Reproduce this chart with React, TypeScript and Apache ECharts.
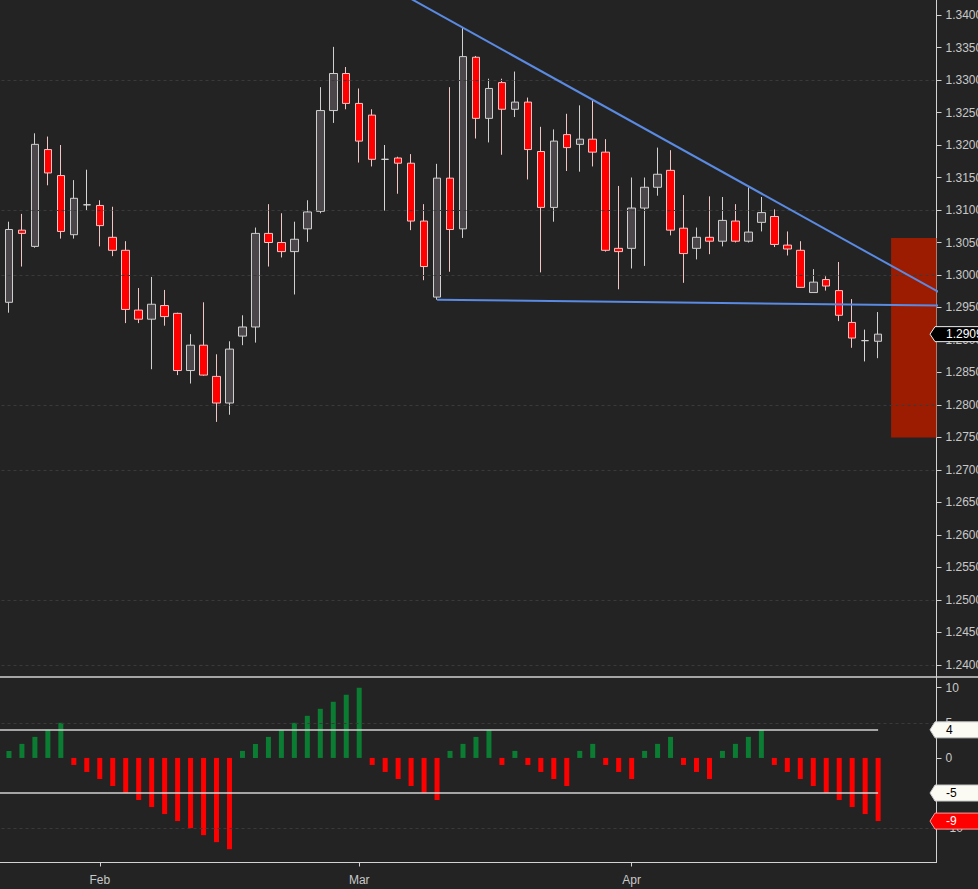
import React, { useEffect, useRef } from 'react';
import * as echarts from 'echarts';

// ---------- data ----------
const DATES: string[] = [
  '2019-01-22', '2019-01-23', '2019-01-24', '2019-01-25', '2019-01-28', '2019-01-29', '2019-01-30', '2019-01-31',
  '2019-02-01', '2019-02-04', '2019-02-05', '2019-02-06', '2019-02-07', '2019-02-08', '2019-02-11', '2019-02-12',
  '2019-02-13', '2019-02-14', '2019-02-15', '2019-02-18', '2019-02-19', '2019-02-20', '2019-02-21', '2019-02-22',
  '2019-02-25', '2019-02-26', '2019-02-27', '2019-02-28',
  '2019-03-01', '2019-03-04', '2019-03-05', '2019-03-06', '2019-03-07', '2019-03-08', '2019-03-11', '2019-03-12',
  '2019-03-13', '2019-03-14', '2019-03-15', '2019-03-18', '2019-03-19', '2019-03-20', '2019-03-21', '2019-03-22',
  '2019-03-25', '2019-03-26', '2019-03-27', '2019-03-28', '2019-03-29',
  '2019-04-01', '2019-04-02', '2019-04-03', '2019-04-04', '2019-04-05', '2019-04-08', '2019-04-09', '2019-04-10',
  '2019-04-11', '2019-04-12', '2019-04-15', '2019-04-16', '2019-04-17', '2019-04-18', '2019-04-19', '2019-04-22',
  '2019-04-23', '2019-04-24', '2019-04-25', '2019-04-26', '2019-04-29', '2019-04-30', '2019-05-01', '2019-05-02',
];

const MONTH_LABELS: Record<string, string> = {
  '2019-02-01': 'Feb',
  '2019-03-01': 'Mar',
  '2019-04-01': 'Apr',
};

// [open, high, low, close]
const OHLC: [number, number, number, number][] = [
  [1.2892, 1.2962, 1.2888, 1.2958],
  [1.2958, 1.3082, 1.2942, 1.3070],
  [1.3069, 1.3094, 1.3013, 1.3064],
  [1.3044, 1.3218, 1.3042, 1.3201],
  [1.3193, 1.3213, 1.3138, 1.3157],
  [1.3153, 1.3200, 1.3056, 1.3067],
  [1.3062, 1.3146, 1.3056, 1.3118],
  [1.3108, 1.3162, 1.3099, 1.3108],
  [1.3107, 1.3115, 1.3044, 1.3076],
  [1.3058, 1.3105, 1.3029, 1.3038],
  [1.3038, 1.3052, 1.2926, 1.2947],
  [1.2946, 1.2980, 1.2926, 1.2932],
  [1.2932, 1.2997, 1.2855, 1.2955],
  [1.2953, 1.2977, 1.2922, 1.2936],
  [1.2941, 1.2942, 1.2846, 1.2853],
  [1.2853, 1.2909, 1.2833, 1.2892],
  [1.2892, 1.2958, 1.2845, 1.2846],
  [1.2844, 1.2878, 1.2774, 1.2803],
  [1.2803, 1.2898, 1.2785, 1.2886],
  [1.2906, 1.2938, 1.2892, 1.2920],
  [1.2920, 1.3073, 1.2896, 1.3064],
  [1.3064, 1.3109, 1.3013, 1.3050],
  [1.3050, 1.3095, 1.3027, 1.3036],
  [1.3036, 1.3082, 1.2970, 1.3055],
  [1.3071, 1.3115, 1.3051, 1.3097],
  [1.3098, 1.3289, 1.3095, 1.3253],
  [1.3253, 1.3351, 1.3234, 1.3310],
  [1.3310, 1.3320, 1.3255, 1.3264],
  [1.3264, 1.3287, 1.3173, 1.3206],
  [1.3246, 1.3255, 1.3167, 1.3178],
  [1.3178, 1.3200, 1.3099, 1.3178],
  [1.3180, 1.3182, 1.3125, 1.3172],
  [1.3172, 1.3186, 1.3069, 1.3083],
  [1.3083, 1.3109, 1.2992, 1.3013],
  [1.2966, 1.3171, 1.2962, 1.3149],
  [1.3149, 1.3289, 1.3005, 1.3070],
  [1.3071, 1.3381, 1.3057, 1.3336],
  [1.3335, 1.3337, 1.3210, 1.3241],
  [1.3241, 1.3302, 1.3204, 1.3287],
  [1.3296, 1.3302, 1.3185, 1.3255],
  [1.3255, 1.3313, 1.3243, 1.3266],
  [1.3266, 1.3273, 1.3147, 1.3193],
  [1.3190, 1.3228, 1.3004, 1.3104],
  [1.3104, 1.3224, 1.3082, 1.3206],
  [1.3216, 1.3248, 1.3160, 1.3196],
  [1.3201, 1.3261, 1.3159, 1.3209],
  [1.3209, 1.3270, 1.3167, 1.3189],
  [1.3189, 1.3209, 1.3036, 1.3038],
  [1.3041, 1.3137, 1.2978, 1.3036],
  [1.3041, 1.3150, 1.3010, 1.3103],
  [1.3103, 1.3150, 1.3014, 1.3135],
  [1.3135, 1.3196, 1.3122, 1.3155],
  [1.3161, 1.3192, 1.3061, 1.3069],
  [1.3072, 1.3123, 1.2988, 1.3033],
  [1.3041, 1.3073, 1.3024, 1.3058],
  [1.3058, 1.3121, 1.3032, 1.3052],
  [1.3052, 1.3120, 1.3044, 1.3084],
  [1.3083, 1.3109, 1.3050, 1.3052],
  [1.3052, 1.3135, 1.3050, 1.3066],
  [1.3081, 1.3120, 1.3067, 1.3096],
  [1.3090, 1.3101, 1.3043, 1.3047],
  [1.3046, 1.3067, 1.3030, 1.3040],
  [1.3038, 1.3052, 1.2980, 1.2981],
  [1.2973, 1.3009, 1.2973, 1.2989],
  [1.2993, 1.2998, 1.2976, 1.2983],
  [1.2976, 1.3020, 1.2929, 1.2938],
  [1.2927, 1.2963, 1.2888, 1.2903],
  [1.2899, 1.2916, 1.2867, 1.2899],
  [1.2898, 1.2943, 1.2872, 1.2909],
];

const HIST: (number | null)[] = [
  null,
  1, 2, 3, 4, 5,
  -1, -2, -3, -4, -5, -6, -7, -8, -9, -10, -11, -12, -13,
  1, 2, 3, 4, 5, 6, 7, 8, 9, 10,
  -1, -2, -3, -4, -5, -6,
  1, 2, 3, 4,
  -1,
  1,
  -1, -2, -3, -4,
  1, 2,
  -1, -2, -3,
  1, 2, 3,
  -1, -2, -3,
  1, 2, 3, 4,
  -1, -2, -3, -4, -5, -6, -7, -8, -9,
];

const HIST_LEVELS = [4, -5];
const PRICE_TICKS = [
  1.24, 1.245, 1.25, 1.255, 1.26, 1.265, 1.27, 1.275, 1.28, 1.285, 1.29,
  1.295, 1.3, 1.305, 1.31, 1.315, 1.32, 1.325, 1.33, 1.335, 1.34,
];
const PRICE_GRID = [1.24, 1.255, 1.27, 1.285, 1.3, 1.315, 1.33];
const HIST_TICKS = [-10, -5, 0, 5, 10];
const HIST_GRID = [-10, 5];

// trend lines: [category index, price] end points
const TREND_UPPER: [number, number][] = [[30, 1.3447], [73, 1.297]];
const TREND_LOWER: [number, number][] = [[34, 1.2962], [73, 1.2953]];

const ZONE_START = '2019-04-29';
const ZONE_HIGH = 1.3057;
const ZONE_LOW = 1.275;

// ---------- layout / style ----------
const W = 978;
const H = 889;
const GRID_LEFT = -10.5;
const GRID_WIDTH = 947;
const MAIN_TOP = 0;
const MAIN_H = 677;
const SUB_TOP = 677;
const SUB_H = 185.5;
const PRICE_MIN = 1.23815;
const PRICE_MAX = 1.34231;
const HIST_MIN = -14.9;
const HIST_MAX = 11.53;

const BG = '#232323';
const AXIS_COLOR = '#d2d2d2';
const LABEL_COLOR = '#c8c8c8';
const FONT = '"Liberation Sans", Arial, sans-serif';

export default function App() {
  const ref = useRef<HTMLDivElement>(null);

  useEffect(() => {
    if (!ref.current) return;
    const chart = echarts.init(ref.current, null, { renderer: 'svg' });

    const isMonth = (_i: number, v: string) => !!MONTH_LABELS[v];
    const gridBase = { outerBoundsMode: 'none', containLabel: false, left: GRID_LEFT, width: GRID_WIDTH };

    const option: any = {
      animation: false,
      backgroundColor: BG,
      textStyle: { fontFamily: FONT },
      grid: [
        { ...gridBase, top: MAIN_TOP, height: MAIN_H },
        { ...gridBase, top: SUB_TOP, height: SUB_H },
      ],
      xAxis: [
        { type: 'category', gridIndex: 0, data: DATES, show: false, boundaryGap: true, axisLine: { onZero: false } },
        {
          type: 'category',
          gridIndex: 1,
          data: DATES,
          boundaryGap: true,
          axisLine: { show: true, onZero: false, lineStyle: { color: AXIS_COLOR, width: 1 } },
          axisTick: { show: true, alignWithLabel: true, interval: isMonth, length: 4, lineStyle: { color: AXIS_COLOR } },
          axisLabel: {
            interval: isMonth,
            formatter: (v: string) => MONTH_LABELS[v] || '',
            color: LABEL_COLOR,
            fontSize: 12,
            fontFamily: FONT,
            margin: 11,
          },
          splitLine: { show: false },
        },
        {
          type: 'value',
          gridIndex: 0,
          min: -0.5,
          max: DATES.length - 0.5,
          show: false,
          axisLine: { onZero: false },
        },
      ],
      yAxis: [
        {
          type: 'value',
          gridIndex: 0,
          position: 'right',
          min: PRICE_MIN,
          max: PRICE_MAX,
          axisLine: { show: true, onZero: false, lineStyle: { color: AXIS_COLOR, width: 1 } },
          axisTick: { show: true, length: 5, customValues: PRICE_TICKS, lineStyle: { color: AXIS_COLOR } },
          axisLabel: {
            customValues: PRICE_TICKS,
            formatter: (v: number) => v.toFixed(4),
            color: LABEL_COLOR,
            fontSize: 12,
            fontFamily: FONT,
            margin: 9,
          },
          splitLine: { show: false },
        },
        {
          type: 'value',
          gridIndex: 1,
          position: 'right',
          min: HIST_MIN,
          max: HIST_MAX,
          axisLine: { show: true, onZero: false, lineStyle: { color: AXIS_COLOR, width: 1 } },
          axisTick: { show: true, length: 5, customValues: HIST_TICKS, lineStyle: { color: AXIS_COLOR } },
          axisLabel: {
            customValues: HIST_TICKS,
            formatter: (v: number) => String(v),
            color: LABEL_COLOR,
            fontSize: 12,
            fontFamily: FONT,
            margin: 9,
          },
          splitLine: { show: false },
        },
      ],
      series: [
        {
          type: 'line',
          xAxisIndex: 0,
          yAxisIndex: 0,
          data: [],
          z: 1,
          silent: true,
          markLine: {
            silent: true,
            animation: false,
            symbol: ['none', 'none'],
            label: { show: false },
            lineStyle: { color: '#3a3a3a', type: [3, 3], width: 1 },
            data: PRICE_GRID.map((v) => ({ yAxis: v })),
          },
          markArea: {
            silent: true,
            animation: false,
            itemStyle: { color: '#9c1c02', opacity: 1 },
            data: [[{ xAxis: ZONE_START, yAxis: ZONE_HIGH }, { yAxis: ZONE_LOW }]],
          },
        },
        {
          type: 'candlestick',
          xAxisIndex: 0,
          yAxisIndex: 0,
          z: 3,
          barWidth: 8,
          data: OHLC.map(([o, h, l, c]) => [o, c, l, h]),
          itemStyle: {
            color: '#4a4649',
            color0: '#ff0000',
            borderColor: '#cfcfcf',
            borderColor0: '#f2c4c4',
            borderColorDoji: '#d6d6d6',
            borderWidth: 1,
          },
        },
        {
          type: 'line',
          xAxisIndex: 2,
          yAxisIndex: 0,
          z: 5,
          symbol: 'none',
          silent: true,
          clip: true,
          data: TREND_UPPER,
          lineStyle: { color: '#5a8ae2', width: 2 },
        },
        {
          type: 'line',
          xAxisIndex: 2,
          yAxisIndex: 0,
          z: 5,
          symbol: 'none',
          silent: true,
          clip: true,
          data: TREND_LOWER,
          lineStyle: { color: '#5a8ae2', width: 2 },
        },
        {
          type: 'line',
          xAxisIndex: 1,
          yAxisIndex: 1,
          data: [],
          z: 1,
          silent: true,
          markLine: {
            silent: true,
            animation: false,
            symbol: ['none', 'none'],
            label: { show: false },
            lineStyle: { color: '#3a3a3a', type: [3, 3], width: 1 },
            data: HIST_GRID.map((v) => ({ yAxis: v })),
          },
        },
        {
          type: 'bar',
          xAxisIndex: 1,
          yAxisIndex: 1,
          z: 3,
          barWidth: 5,
          data: HIST.map((v) =>
            v == null ? null : { value: v, itemStyle: { color: v > 0 ? '#0b7d33' : '#ff0000' } }
          ),
          markLine: {
            silent: true,
            animation: false,
            symbol: ['none', 'none'],
            label: { show: false },
            lineStyle: { color: 'rgba(210,210,210,0.75)', type: 'solid', width: 2 },
            data: HIST_LEVELS.map((v) => [
              { coord: [DATES[0], v] },
              { coord: [DATES[HIST.length - 1], v] },
            ]),
          },
        },
      ],
    };

    chart.setOption(option);

    // value tags on the right axis, positioned through the axes' own scales
    const right = chart.convertToPixel({ xAxisIndex: 2 }, DATES.length - 0.5) as number;
    const lastClose = OHLC[OHLC.length - 1][3];
    const lastHist = HIST[HIST.length - 1] as number;
    const tags = [
      { axis: 0, value: lastClose, text: lastClose.toFixed(4), fill: '#000000', stroke: '#f0f0f0', color: '#ffffff', half: 7.5 },
      { axis: 1, value: HIST_LEVELS[0], text: String(HIST_LEVELS[0]), fill: '#fbfbf4', stroke: '#c8c8c8', color: '#000000', half: 8 },
      { axis: 1, value: HIST_LEVELS[1], text: String(HIST_LEVELS[1]), fill: '#fbfbf4', stroke: '#c8c8c8', color: '#000000', half: 8 },
      { axis: 1, value: lastHist, text: String(lastHist), fill: '#ff0000', stroke: '#ff9a9a', color: '#ffffff', half: 8 },
    ];
    const graphics: any[] = [
      {
        type: 'line',
        shape: { x1: 0, y1: SUB_TOP, x2: W, y2: SUB_TOP },
        style: { stroke: AXIS_COLOR, lineWidth: 1.5 },
        z: 40,
        silent: true,
      },
    ];
    tags.forEach((t) => {
      const y = chart.convertToPixel({ yAxisIndex: t.axis }, t.value) as number;
      graphics.push({
        type: 'polygon',
        shape: {
          points: [
            [right - 6.5, y],
            [right - 1.5, y - t.half],
            [W + 5, y - t.half],
            [W + 5, y + t.half],
            [right - 1.5, y + t.half],
          ],
        },
        style: { fill: t.fill, stroke: t.stroke, lineWidth: 1 },
        z: 50,
        silent: true,
      });
      graphics.push({
        type: 'text',
        x: right + 9.5,
        y: y,
        style: {
          text: t.text,
          fill: t.color,
          font: `12px ${FONT}`,
          verticalAlign: 'middle',
          textVerticalAlign: 'middle',
        },
        z: 51,
        silent: true,
      });
    });
    chart.setOption({ graphic: graphics });

    return () => chart.dispose();
  }, []);

  return (
    <div
      ref={ref}
      style={{ position: 'fixed', left: 0, top: 0, width: W, height: H, background: BG }}
    />
  );
}
